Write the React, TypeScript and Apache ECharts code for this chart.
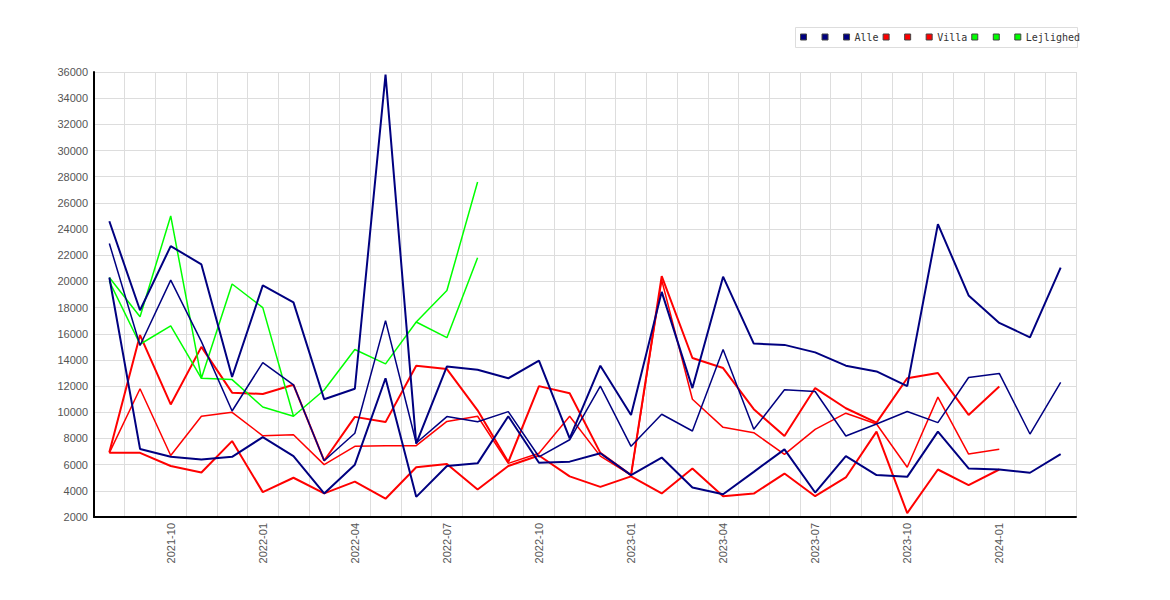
import React, { useEffect, useRef } from "react";
import * as echarts from "echarts";

const months = [
  "2021-08", "2021-09", "2021-10", "2021-11", "2021-12", "2022-01", "2022-02", "2022-03",
  "2022-04", "2022-05", "2022-06", "2022-07", "2022-08", "2022-09", "2022-10", "2022-11",
  "2022-12", "2023-01", "2023-02", "2023-03", "2023-04", "2023-05", "2023-06", "2023-07",
  "2023-08", "2023-09", "2023-10", "2023-11", "2023-12", "2024-01", "2024-02", "2024-03",
];

const alleA = [24600, 17800, 22700, 21300, 12700, 19700, 18400, 11000, 11800, 35800, 7600, 13500, 13250, 12600, 13950, 8000, 13560, 9800, 19200, 11850, 20360, 15250, 15150, 14580, 13560, 13120, 12000, 24380, 18930, 16830, 15730, 21050];
const alleB = [22900, 15100, 20100, 15400, 10100, 13800, 12100, 6300, 8400, 17000, 7650, 9670, 9280, 10050, 6600, 7900, 12000, 7400, 9850, 8570, 14790, 8700, 11720, 11590, 8190, 9110, 10060, 9210, 12660, 12970, 8340, 12280];
const alleC = [20300, 7200, 6600, 6400, 6600, 8100, 6650, 3800, 6000, 12600, 3540, 5900, 6100, 9700, 6150, 6230, 6870, 5200, 6540, 4250, 3740, 5450, 7170, 3870, 6650, 5200, 5070, 8520, 5710, 5630, 5380, 6810];

const villaA = [6950, 15900, 10600, 15000, 11500, 11400, 12100, 6300, 9650, 9250, 13550, 13300, 10150, 6200, 12000, 11450, 6900, 5200, 20400, 14150, 13380, 10240, 8190, 11850, 10310, 9210, 12600, 13000, 9800, 11970, null, null];
const villaB = [6900, 11800, 6700, 9700, 10000, 8200, 8280, 6000, 7400, 7450, 7450, 9300, 9700, 6100, 6870, 9700, 6650, 5200, 20100, 11000, 8850, 8440, 6780, 8700, 9930, 9110, 5800, 11160, 6810, 7170, null, null];
const villaC = [6900, 6900, 5900, 5400, 7800, 3900, 5000, 3800, 4700, 3400, 5800, 6050, 4100, 5900, 6700, 5100, 4300, 5100, 3800, 5700, 3590, 3790, 5320, 3590, 5020, 8520, 2300, 5630, 4430, 5630, null, null];

const lejA = [20300, 17300, 25000, 12600, 19800, 18000, 9700, null, null, null, null, null, null, null, null, null, null, null, null, null, null, null, null, null, null, null, null, null, null, null, null, null];
const lejB = [20000, 15200, 16600, 12600, 12500, 10400, 9700, 11700, 14800, 13700, 16900, 15700, 21800, null, null, null, null, null, null, null, null, null, null, null, null, null, null, null, null, null, null, null];
const lejC = [null, null, null, null, null, null, null, null, null, null, 16900, 19300, 27600, null, null, null, null, null, null, null, null, null, null, null, null, null, null, null, null, null, null, null];

const yTicks = { min: 2000, max: 36000, step: 2000 };

const NAVY = "#000080";
const RED = "#ff0000";
const GREEN = "#00ff00";

function mk(name: string, data: (number | null)[], color: string, width: number, z: number) {
  return {
    name,
    type: "line",
    data,
    symbol: "none",
    showSymbol: false,
    connectNulls: false,
    z,
    lineStyle: { color, width },
    itemStyle: { color, borderColor: "#444", borderWidth: 1 },
  };
}

export default function App() {
  const ref = useRef<HTMLDivElement>(null);
  useEffect(() => {
    if (!ref.current) return;
    const chart = echarts.init(ref.current, undefined, { renderer: "svg" });
    const series = [
      mk("Alle_1", alleA, NAVY, 2, 4),
      mk("Alle_2", alleB, NAVY, 1.5, 4),
      mk("Alle", alleC, NAVY, 2, 4),
      mk("Villa_1", villaA, RED, 2, 3),
      mk("Villa_2", villaB, RED, 1.5, 3),
      mk("Villa", villaC, RED, 2, 3),
      mk("Lejlighed_1", lejA, GREEN, 1.5, 3),
      mk("Lejlighed_2", lejB, GREEN, 1.5, 3),
      mk("Lejlighed", lejC, GREEN, 1.5, 3),
    ];
    chart.setOption({
      animation: false,
      backgroundColor: "#ffffff",
      graphic: [
        {
          type: "rect",
          left: 795,
          top: 27,
          z: 0,
          shape: { width: 282, height: 20 },
          style: { fill: "#ffffff", stroke: "#dddddd", lineWidth: 1 },
        },
      ],
      legend: {
        left: 800,
        top: 31,
        padding: 0,
        itemGap: 4,
        itemWidth: 6,
        itemHeight: 6,
        icon: "rect",
        z: 5,
        itemStyle: { borderColor: "#444", borderWidth: 1 },
        textStyle: {
          fontFamily: "DejaVu Sans Mono",
          fontSize: 10,
          color: "#333",
          lineHeight: 12,
        },
        formatter: (n: string) => (n.indexOf("_") >= 0 ? " " : n),
        data: series.map((s) => s.name),
      },
      grid: { left: 94, right: 94, top: 72, bottom: 83, containLabel: false },
      xAxis: {
        type: "category",
        data: months,
        boundaryGap: true,
        axisLine: { show: true, lineStyle: { color: "#000", width: 2 } },
        axisTick: { show: false, interval: 0 },
        splitLine: { show: true, interval: 0, lineStyle: { color: "#dddddd", width: 1 } },
        axisLabel: {
          rotate: 90,
          margin: 6,
          color: "#555",
          fontFamily: "Liberation Sans",
          fontSize: 11,
          interval: (_i: number, v: string) => /-(01|04|07|10)$/.test(v),
        },
      },
      yAxis: {
        type: "value",
        min: yTicks.min,
        max: yTicks.max,
        interval: yTicks.step,
        axisLine: { show: true, lineStyle: { color: "#000", width: 2 } },
        axisTick: { show: false },
        splitLine: { show: true, lineStyle: { color: "#dddddd", width: 1 } },
        axisLabel: {
          margin: 6,
          color: "#555",
          fontFamily: "Liberation Sans",
          fontSize: 11,
          formatter: (v: number) => String(v),
        },
      },
      series,
    });
    return () => chart.dispose();
  }, []);
  return (
    <div
      ref={ref}
      style={{ position: "fixed", left: 0, top: 0, width: 1170, height: 600, background: "#fff" }}
    />
  );
}
